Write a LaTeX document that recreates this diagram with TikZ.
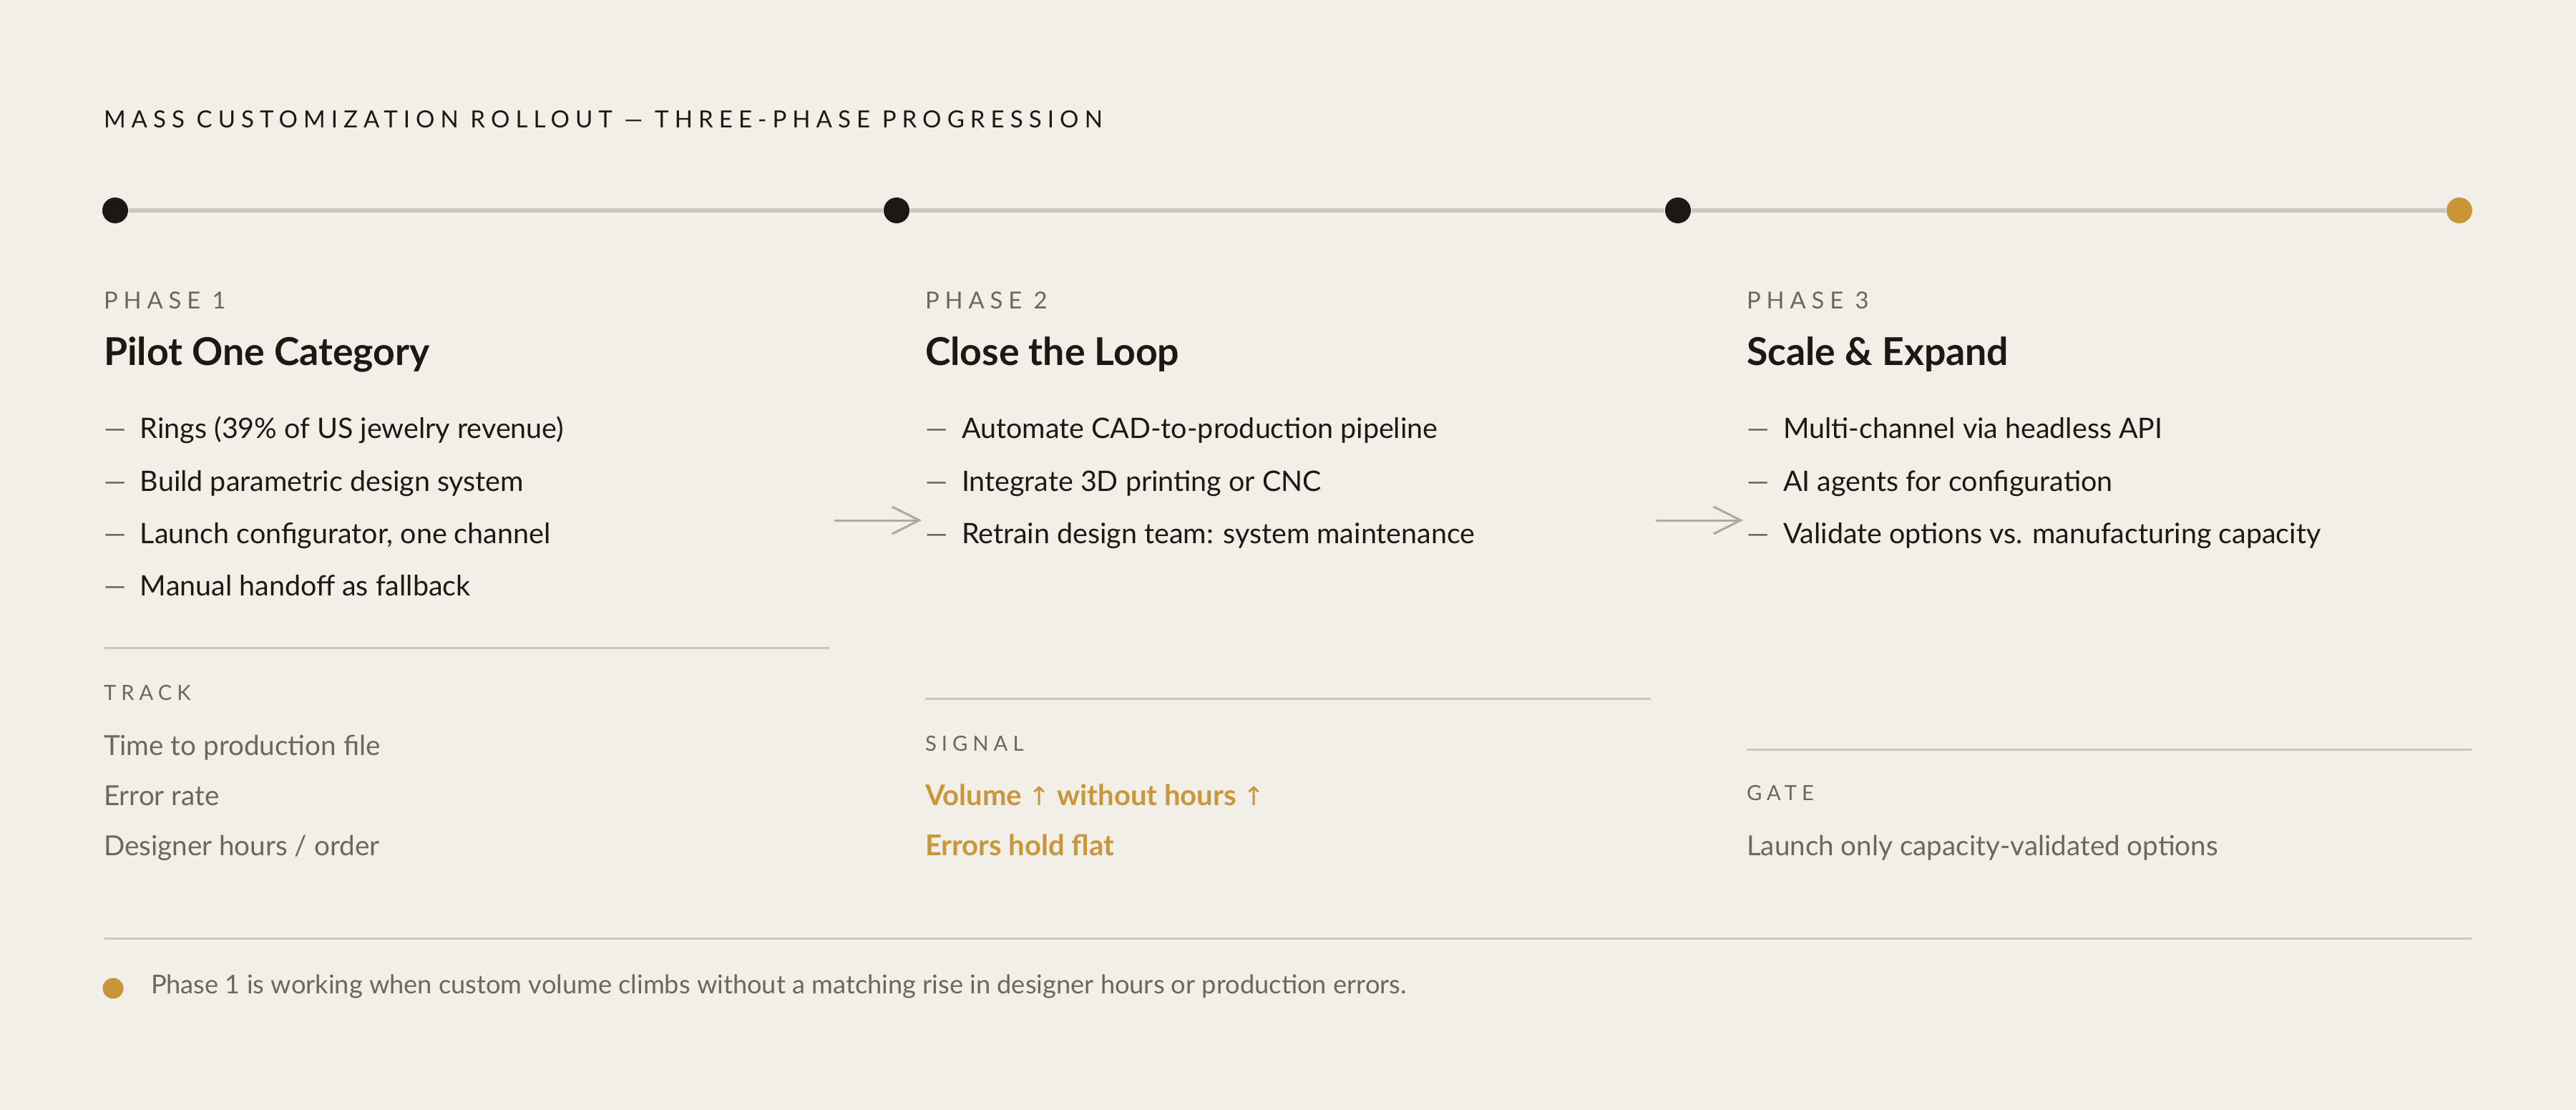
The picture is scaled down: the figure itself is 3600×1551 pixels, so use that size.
\documentclass[tikz,border=0pt]{standalone}
\usepackage{fontspec}
\setmainfont{Lato}
\newfontfamily\spacedfont[LetterSpace=24]{Lato}
\newfontfamily\titlefont[LetterSpace=24.5]{Lato}
\newfontfamily\arrowfont{DejaVu Sans}
\usetikzlibrary{arrows.meta,positioning}

\definecolor{paper}{HTML}{F2EEE8}
\definecolor{ink}{HTML}{1C1815}
\definecolor{muted}{HTML}{6B665F}
\definecolor{gold}{HTML}{C9963A}
\definecolor{rulec}{HTML}{CCC7C0}
\definecolor{flowc}{HTML}{ADA8A2}

\newcommand\dashitem[1]{\makebox[12.75pt][l]{\textcolor{muted}{—}}#1}
\newcommand\up{{\arrowfont\mdseries\fontsize{9}{12}\selectfont ↑}}

\begin{document}
\begin{tikzpicture}[x=0.25pt,y=-0.25pt]
			\tikzstyle{Label}	= [anchor=base west, inner sep=0pt, outer sep=0pt]
			\tikzstyle{Header}	= [Label, text=ink, font=\titlefont\fontsize{8.25}{10}\selectfont]
			\tikzstyle{Kicker}	= [Label, text=muted, font=\spacedfont\fontsize{8.2}{10}\selectfont]
			\tikzstyle{Small}	= [Label, text=muted, font=\spacedfont\fontsize{7.3}{9}\selectfont]
			\tikzstyle{Heading}	= [Label, text=ink, font=\bfseries\fontsize{13.4}{16}\selectfont]
			\tikzstyle{Item}	= [Label, text=ink, font=\fontsize{9.85}{12}\selectfont]
			\tikzstyle{Metric}	= [Label, text=muted, font=\fontsize{9.65}{12}\selectfont]
			\tikzstyle{Signal}	= [Label, text=gold, font=\bfseries\fontsize{10}{12}\selectfont]
			\tikzstyle{Note}	= [Label, text=muted, font=\fontsize{9.05}{11}\selectfont]
			\tikzstyle{Dot}		= [circle, fill=ink, minimum size=9pt, inner sep=0pt]
			\tikzstyle{Track}	= [draw=rulec, line width=1.4pt]
			\tikzstyle{Rule}	= [draw=rulec, line width=0.75pt]
			\tikzstyle{Flow}	= [draw=flowc, line width=0.75pt, -{Straight Barb[length=9.5pt, width=9.5pt]}]

			\useasboundingbox (0,0) rectangle (3600,1551);
			\fill [paper] (0,0) rectangle (3600,1551);

			\node (title) at (145,179) [Header] {MASS CUSTOMIZATION ROLLOUT — THREE-PHASE PROGRESSION};

			% timeline
			\node (t1) at (161,294) [Dot] {};
			\node (t2) at (1253,294) [Dot] {};
			\node (t3) at (2345,294) [Dot] {};
			\node (t4) at (3437,294) [Dot, fill=gold] {};
			\draw [Track] (t1) -- (t2);
			\draw [Track] (t2) -- (t3);
			\draw [Track] (t3) -- (t4);

			% phase 1
			\node (p1) at (145,431) [Kicker] {PHASE 1};
			\node (h1) at (145,511) [Heading] {Pilot One Category};
			\node (b11) at (145,612) [Item] {\dashitem{Rings (39\% of US jewelry revenue)}};
			\node (b12) at (145,686) [Item] {\dashitem{Build parametric design system}};
			\node (b13) at (145,759) [Item] {\dashitem{Launch configurator, one channel}};
			\node (b14) at (145,832) [Item] {\dashitem{Manual handoff as fallback}};
			\coordinate (r1a) at (145,905);
			\coordinate (r1b) at (1159,905);
			\draw [Rule] (r1a) -- (r1b);
			\node (k1) at (145,978) [Small] {TRACK};
			\node (m11) at (145,1055) [Metric] {Time to production file};
			\node (m12) at (145,1125) [Metric] {Error rate};
			\node (m13) at (145,1195) [Metric] {Designer hours / order};

			% phase 2
			\node (p2) at (1293,431) [Kicker] {PHASE 2};
			\node (h2) at (1293,511) [Heading] {Close the Loop};
			\node (b21) at (1293,612) [Item] {\dashitem{Automate CAD-to-production pipeline}};
			\node (b22) at (1293,686) [Item] {\dashitem{Integrate 3D printing or CNC}};
			\node (b23) at (1293,759) [Item] {\dashitem{Retrain design team: system maintenance}};
			\coordinate (r2a) at (1293,976);
			\coordinate (r2b) at (2307,976);
			\draw [Rule] (r2a) -- (r2b);
			\node (k2) at (1293,1049) [Small] {SIGNAL};
			\node (m21) at (1293,1125) [Signal] {Volume \up{} without hours \up};
			\node (m22) at (1293,1195) [Signal] {Errors hold flat};

			% phase 3
			\node (p3) at (2441,431) [Kicker] {PHASE 3};
			\node (h3) at (2441,511) [Heading] {Scale \& Expand};
			\node (b31) at (2441,612) [Item] {\dashitem{Multi-channel via headless API}};
			\node (b32) at (2441,686) [Item] {\dashitem{AI agents for configuration}};
			\node (b33) at (2441,759) [Item] {\dashitem{Validate options vs. manufacturing capacity}};
			\coordinate (r3a) at (2441,1047);
			\coordinate (r3b) at (3455,1047);
			\draw [Rule] (r3a) -- (r3b);
			\node (k3) at (2441,1118) [Small] {GATE};
			\node (m31) at (2441,1195) [Metric] {Launch only capacity-validated options};

			% hand-offs between phases
			\coordinate (a1s) at (1166,727);
			\coordinate (a1e) at (1288,727);
			\coordinate (a2s) at (2314,727);
			\coordinate (a2e) at (2436,727);
			\draw [Flow] (a1s) -- (a1e);
			\draw [Flow] (a2s) -- (a2e);

			% footer
			\coordinate (fa) at (145,1311);
			\coordinate (fb) at (3455,1311);
			\draw [Rule] (fa) -- (fb);
			\node (fdot) at (158,1381) [Dot, fill=gold, minimum size=7.25pt] {};
			\node (note) at (211,1388) [Note] {Phase 1 is working when custom volume climbs without a matching rise in designer hours or production errors.};
		\end{tikzpicture}
\end{document}
